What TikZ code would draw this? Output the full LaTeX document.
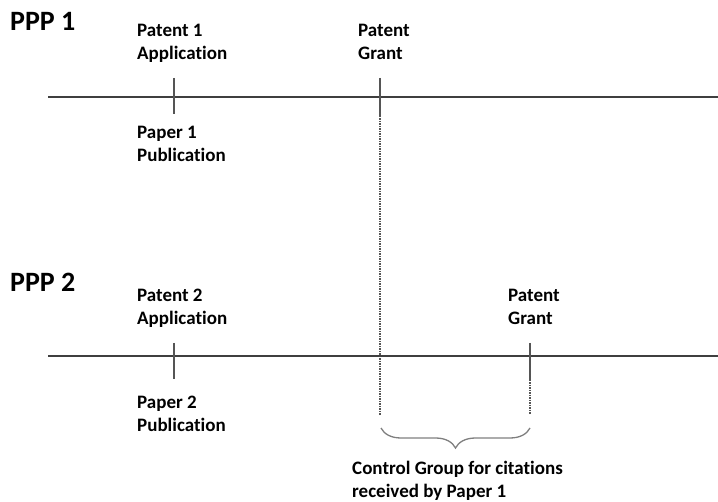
\documentclass[tikz,border=0pt]{standalone}
\usepackage{fontspec}
\setmainfont{Carlito}[Ligatures=NoCommon]
\usetikzlibrary{decorations.pathreplacing,arrows.meta}
\definecolor{axisgray}{HTML}{3F3F3F}
\definecolor{tickgray}{HTML}{555555}
\definecolor{bracegray}{HTML}{7F7F7F}
\tikzset{
  lbl/.style={anchor=base west, inner sep=0pt, align=left,
    font=\bfseries\fontsize{19}{22.5}\selectfont},
  ppp/.style={anchor=base west, inner sep=0pt,
    font=\bfseries\fontsize{28}{30}\selectfont},
  timeline/.style={axisgray, line width=1.3pt, -{To[length=5pt,width=10pt]}},
  tickmark/.style={tickgray, line width=1.3pt},
  dotline/.style={tickgray, line width=1.2pt, dash pattern=on 1.5pt off 1pt},
  grpbrace/.style={bracegray, line width=1.3pt,
    decorate, decoration={brace, mirror, amplitude=20pt}}
}
\begin{document}
\begin{tikzpicture}[x=1pt,y=-1pt]
  \useasboundingbox (0,0) rectangle (718,502);
  % first pair (label nodes sit on the baseline of their last line)
  \node[ppp] (ppp1) at (10,31) {PPP 1};
  \draw[timeline] (48,97) -- (723,97);
  \draw[tickmark] (174,78) -- (174,114);
  \draw[tickmark] (380,78) -- (380,116);
  \draw[dotline] (380,116) -- (380,415);
  \node[lbl] (app1) at (137,59.5) {Patent 1\\Application};
  \node[lbl] (pub1) at (137,161.5) {Paper 1\\Publication};
  \node[lbl] (grant1) at (358,59.5) {Patent\\Grant};
  % second pair
  \node[ppp] (ppp2) at (10,292) {PPP 2};
  \draw[timeline] (48,356) -- (723,356);
  \draw[tickmark] (174,343) -- (174,379);
  \draw[tickmark] (530,343) -- (530,380);
  \draw[dotline] (530,380) -- (530,415);
  \node[lbl] (app2) at (137,324.5) {Patent 2\\Application};
  \node[lbl] (pub2) at (137,431.5) {Paper 2\\Publication};
  \node[lbl] (grant2) at (508,324.5) {Patent\\Grant};
  % control group
  \coordinate (bl) at (381,428);
  \coordinate (br) at (530,428);
  \draw[grpbrace] (bl) -- (br);
  \node[lbl] (ctrl) at (352,497.5) {Control Group for citations\\received by Paper 1};
\end{tikzpicture}
\end{document}
